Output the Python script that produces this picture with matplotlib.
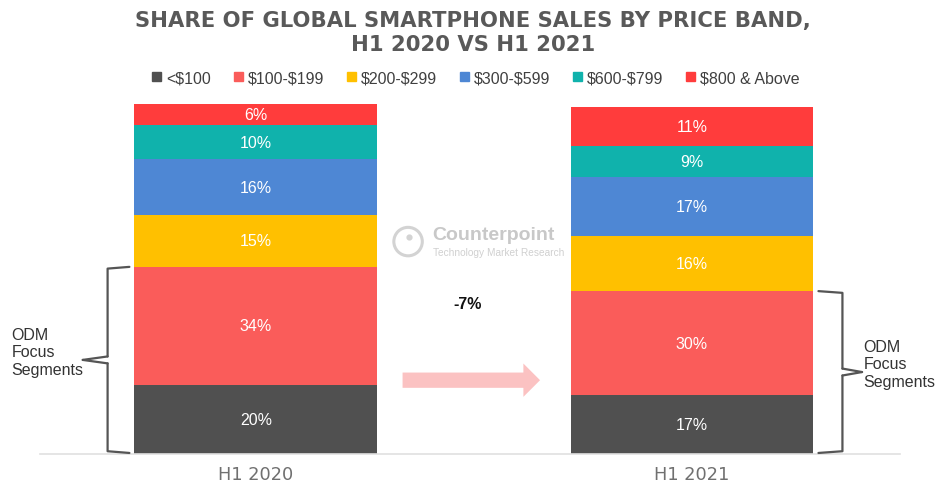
import matplotlib.pyplot as plt

periods = ['H1 2020', 'H1 2021']
bands = ['<$100', '$100-$199', '$200-$299', '$300-$599', '$600-$799', '$800 & Above']
shares = {
    '<$100': [20, 17],
    '$100-$199': [34, 30],
    '$200-$299': [15, 16],
    '$300-$599': [16, 17],
    '$600-$799': [10, 9],
    '$800 & Above': [6, 11],
}
colors = ['#505050', '#FA5C5A', '#FFC000', '#4E87D4', '#10B2AC', '#FF3C3C']
change_label = '-7%'

plt.rcParams['font.family'] = ['Liberation Sans', 'DejaVu Sans']

fig = plt.figure(figsize=(9.46, 4.85), dpi=100)
ax = fig.add_axes([40 / 946, 30 / 485, 860 / 946, 350 / 485])

x = [0, 1]
bottoms = [0, 0]
for band, c in zip(bands, colors):
    vals = shares[band]
    ax.bar(x, vals, width=0.557, bottom=bottoms, color=c, zorder=2)
    for i in range(2):
        ax.text(x[i], bottoms[i] + vals[i] / 2, f'{vals[i]}%', ha='center', va='center',
                color='white', fontsize=11.5, zorder=3)
    bottoms = [b + v for b, v in zip(bottoms, vals)]

ax.set_xlim(-0.495, 1.477)
ax.set_ylim(0, 101)
for s in ['top', 'right', 'left']:
    ax.spines[s].set_visible(False)
ax.spines['bottom'].set_color('#e0e0e0')
ax.spines['bottom'].set_linewidth(1.2)
ax.set_yticks([])
ax.set_xticks(x)
ax.set_xticklabels(periods, color='#707070', fontsize=12.8, family='DejaVu Sans')
ax.tick_params(axis='x', length=0, pad=8)

# title
fig.text(0.5, 0.978, 'SHARE OF GLOBAL SMARTPHONE SALES BY PRICE BAND,\nH1 2020 VS H1 2021',
         ha='center', va='top', fontsize=15.2, fontweight='bold', color='#595959',
         linespacing=1.25, family='DejaVu Sans')

# legend
handles = [plt.Rectangle((0, 0), 1, 1, color=c) for c in colors]
labels = [b.replace('$', r'\$') for b in bands]
fig.legend(handles, labels, loc='center', bbox_to_anchor=(0.503, 0.838), ncol=6, frameon=False,
           fontsize=11.5, handlelength=0.55, handleheight=0.55, handletextpad=0.3,
           columnspacing=1.45, labelcolor='#404040')

# ODM brackets
def bracket(x0, y0, y1, xr, tip):
    ym = (y0 + y1) / 2
    kw = dict(color='#555555', lw=1.6, clip_on=False, zorder=4, solid_capstyle='round')
    ax.plot([x0, xr, xr], [y0, y0 + 0.5, ym - 1], **kw)
    ax.plot([xr, xr, x0], [ym + 1, y1 - 0.5, y1], **kw)
    ax.plot([xr, tip], [ym - 1, ym], **kw)
    ax.plot([xr, tip], [ym + 1, ym], **kw)

bracket(-0.29, 0.3, 54, -0.34, -0.397)
ax.text(-0.56, 29.5, 'ODM\nFocus\nSegments', ha='left', va='center', fontsize=11.5,
        color='#333333', linespacing=1.2, clip_on=False)
bracket(1.29, 0.3, 47, 1.345, 1.39)
ax.text(1.393, 26, 'ODM\nFocus\nSegments', ha='left', va='center', fontsize=11.5,
        color='#333333', linespacing=1.2)

# arrow and change label
ax.annotate('', xy=(0.658, 21.3), xytext=(0.33, 21.3),
            arrowprops=dict(arrowstyle='simple,head_width=2.4,head_length=1.2,tail_width=1.1',
                            color='#FBC2C2', lw=0), zorder=3)
ax.text(0.485, 43.5, change_label, ha='center', va='center', fontsize=11.5,
        fontweight='bold', color='#111111')

# watermark
ax.scatter([0.349], [61.3], s=420, facecolors='none', edgecolors='#d3d3d3', linewidths=2.2,
           clip_on=False, zorder=1)
ax.scatter([0.352], [62.6], s=12, color='#d3d3d3', zorder=1)
ax.text(0.405, 63.3, 'Counterpoint', ha='left', va='center', fontsize=14,
        fontweight='bold', color='#c8c8c8')
ax.text(0.406, 58.2, 'Technology Market Research', ha='left', va='center', fontsize=7.3,
        color='#d0d0d0')

fig.savefig('out.png', dpi=100)
